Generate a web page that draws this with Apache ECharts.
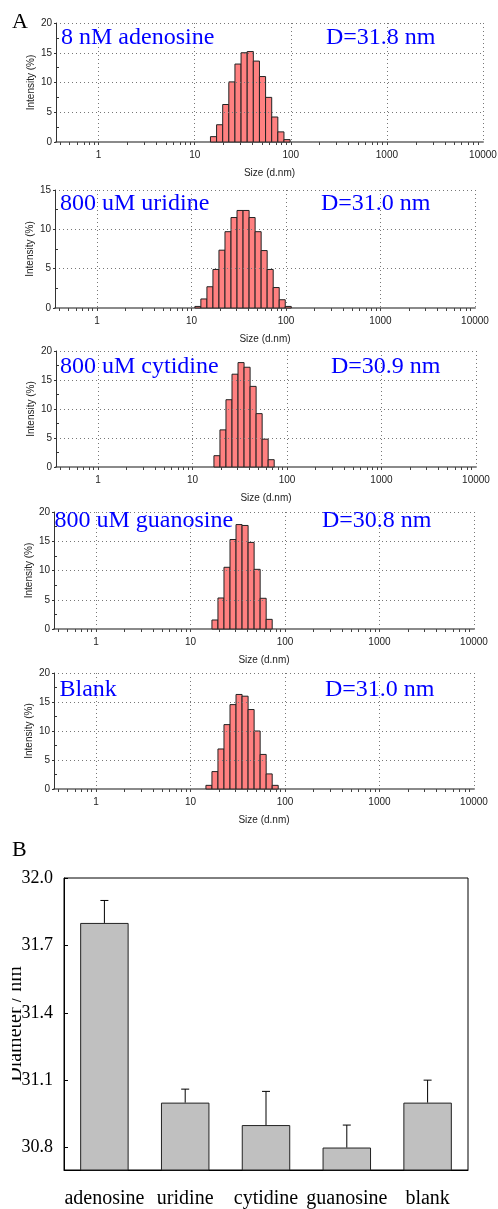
<!DOCTYPE html>
<html><head><meta charset="utf-8">
<script src="https://cdn.jsdelivr.net/npm/echarts@6/dist/echarts.min.js"></script>
<style>html,body{margin:0;padding:0;background:#fff}#c{width:498px;height:1209px}</style>
</head><body><div id="c"></div>
<script>
// ---------- DATA ----------
var SIZE_BINS = [10.1, 11.7, 13.54, 15.69, 18.17, 21.04, 24.36, 28.21, 32.67, 37.84, 43.82, 50.75, 58.77, 68.06, 78.82, 91.28, 105.7, 122.4];
var INT_ADENOSINE = [0, 0, 0, 0.9, 2.9, 6.3, 10.1, 13.1, 15.0, 15.2, 13.6, 11.0, 7.5, 4.2, 1.7, 0.4, 0, 0];
var INT_URIDINE   = [0, 0.2, 1.15, 2.7, 4.9, 7.35, 9.7, 11.5, 12.4, 12.4, 11.5, 9.7, 7.3, 4.9, 2.6, 1.05, 0.2, 0];
var INT_CYTIDINE  = [0, 0, 0, 0, 1.95, 6.4, 11.6, 16.0, 18.0, 17.2, 13.9, 9.2, 4.8, 1.26, 0, 0, 0, 0];
var INT_GUANOSINE = [0, 0, 0, 0, 1.54, 5.3, 10.55, 15.3, 17.85, 17.7, 14.8, 10.2, 5.25, 1.65, 0, 0, 0, 0];
var INT_BLANK     = [0, 0, 0, 0.63, 3.0, 6.9, 11.1, 14.55, 16.3, 16.0, 13.7, 10.0, 5.96, 2.6, 0.63, 0, 0, 0];
var PANEL_LABELS = ['8 nM adenosine', '800 uM uridine', '800 uM cytidine', '800 uM guanosine', 'Blank'];
var PANEL_D = ['D=31.8 nm', 'D=31.0 nm', 'D=30.9 nm', 'D=30.8 nm', 'D=31.0 nm'];
var PANEL_YMAX = [20, 15, 20, 20, 20];
var X_LABEL_TICKS = [1, 10, 100, 1000, 10000];
var X_MINOR_TICKS = [0.4, 0.5, 0.6, 0.7, 0.8, 0.9, 1, 2, 3, 4, 5, 6, 7, 8, 9, 10, 20, 30, 40, 50, 60, 70, 80, 90, 100,
  200, 300, 400, 500, 600, 700, 800, 900, 1000, 2000, 3000, 4000, 5000, 6000, 7000, 8000, 9000];
var Y_MINOR_TICKS = [2.5, 7.5, 12.5, 17.5];

var B_CATEGORIES = ['adenosine', 'uridine', 'cytidine', 'guanosine', 'blank'];
var B_DIAMETER = [31.8, 31.0, 30.9, 30.8, 31.0];
var B_ERROR = [0.1, 0.06, 0.15, 0.1, 0.1];
var B_TICKS = [30.8, 31.1, 31.4, 31.7, 32.0];

var INTENSITIES = [INT_ADENOSINE, INT_URIDINE, INT_CYTIDINE, INT_GUANOSINE, INT_BLANK];

// ---------- LAYOUT ----------
var GRIDS = [
  {left: 56, top: 23, width: 427, height: 119},
  {left: 55, top: 190, width: 420, height: 118},
  {left: 56, top: 351, width: 420, height: 116},
  {left: 54, top: 512, width: 420, height: 117},
  {left: 54, top: 673, width: 420, height: 116},
  {left: 64, top: 878, width: 404, height: 292}
];
var TITLE_POS = [
  [61, 38, 326], [60, 203.5, 321], [60, 367, 331], [54.5, 521, 322], [59.5, 690, 325]
];

var HALF = Math.sqrt(SIZE_BINS[1] / SIZE_BINS[0]);
var SANS = 'Liberation Sans, Arial, sans-serif';
var SERIF = 'Liberation Serif, Times New Roman, serif';

var grid = [], xAxis = [], yAxis = [], series = [], graphic = [];
var xMinorAxes = [], yMinorAxes = [];

for (var i = 0; i < 5; i++) {
  var g = GRIDS[i];
  grid.push({left: g.left, top: g.top, width: g.width, height: g.height, containLabel: false, outerBoundsMode: 'none'});
  xAxis.push({
    type: 'log', logBase: 10, gridIndex: i, min: 0.36, max: 10000, position: 'bottom',
    name: 'Size (d.nm)', nameLocation: 'middle', nameGap: 26, nameMoveOverlap: false,
    nameTextStyle: {fontFamily: SANS, fontSize: 10, color: '#222'},
    axisLine: {show: true, lineStyle: {color: '#8a8a8a', width: 2}},
    axisTick: {show: false},
    axisLabel: {show: true, customValues: X_LABEL_TICKS, margin: 8, fontFamily: SANS, fontSize: 10, color: '#222',
      hideOverlap: false, showMinLabel: true, showMaxLabel: true,
      formatter: function (v) { return String(Math.round(v)); }},
    splitLine: {show: true, showMinLine: false, showMaxLine: true, lineStyle: {color: '#777', type: [1, 3], width: 1}},
    z: 2
  });
  yAxis.push({
    type: 'value', gridIndex: i, min: 0, max: PANEL_YMAX[i], interval: 5, position: 'left',
    name: 'Intensity (%)', nameLocation: 'middle', nameGap: 20, nameMoveOverlap: false,
    nameTextStyle: {fontFamily: SANS, fontSize: 10, color: '#222'},
    axisLine: {show: true, lineStyle: {color: '#333', width: 1}},
    axisTick: {show: true, inside: false, length: 2, lineStyle: {color: '#333'}},
    axisLabel: {margin: 4, fontFamily: SANS, fontSize: 10, color: '#222'},
    splitLine: {show: true, showMinLine: false, showMaxLine: true, lineStyle: {color: '#777', type: [1, 3], width: 1}},
    z: 5
  });
  // minor tick axes (ticks only)
  xMinorAxes.push({
    type: 'log', logBase: 10, gridIndex: i, min: 0.36, max: 10000, position: 'bottom', offset: 0,
    axisLine: {show: false}, axisLabel: {show: false}, splitLine: {show: false},
    axisTick: {show: true, inside: false, length: 3, customValues: X_MINOR_TICKS, lineStyle: {color: '#444', width: 1}},
    z: 6
  });
  yMinorAxes.push({
    type: 'value', gridIndex: i, min: 0, max: PANEL_YMAX[i], position: 'left', offset: 0,
    axisLine: {show: false}, axisLabel: {show: false}, splitLine: {show: false},
    axisTick: {show: true, inside: true, length: 3,
      customValues: Y_MINOR_TICKS.filter(function (v) { return v < PANEL_YMAX[i]; }), lineStyle: {color: '#333'}},
    z: 6
  });
  var arr = INTENSITIES[i];
  series.push({
    type: 'custom', xAxisIndex: i, yAxisIndex: i, coordinateSystem: 'cartesian2d',
    data: SIZE_BINS.map(function (s, k) { return [s, arr[k]]; }),
    encode: {x: 0, y: 1},
    z: 3,
    renderItem: function (params, api) {
      var c = api.value(0), v = api.value(1);
      if (!v) return null;
      var p0 = api.coord([c / HALF, 0]);
      var p1 = api.coord([c * HALF, v]);
      return {type: 'rect',
        shape: {x: p0[0], y: p1[1], width: p1[0] - p0[0], height: p0[1] - p1[1]},
        style: {fill: '#ff8080', stroke: '#222', lineWidth: 1}};
    }
  });
  var tp = TITLE_POS[i];
  graphic.push({type: 'text', x: tp[0], y: tp[1], z: 100,
    style: {text: PANEL_LABELS[i], font: '24px ' + SERIF, fill: '#0000ff', textAlign: 'left', textVerticalAlign: 'middle', verticalAlign: 'middle'}});
  graphic.push({type: 'text', x: tp[2], y: tp[1], z: 100,
    style: {text: PANEL_D[i], font: '24px ' + SERIF, fill: '#0000ff', textAlign: 'left', textVerticalAlign: 'middle', verticalAlign: 'middle'}});
}

// ---------- Panel B ----------
var gb = GRIDS[5];
grid.push({left: gb.left, top: gb.top, width: gb.width, height: gb.height, show: true, borderColor: '#000', borderWidth: 1, backgroundColor: 'transparent', containLabel: false, outerBoundsMode: 'none'});
xAxis.push({
  type: 'category', gridIndex: 5, data: B_CATEGORIES,
  axisLine: {show: true, lineStyle: {color: '#000', width: 1}},
  axisTick: {show: false},
  axisLabel: {margin: 19, fontFamily: SERIF, fontSize: 20, color: '#000', interval: 0, hideOverlap: false},
  splitLine: {show: false}
});
yAxis.push({
  type: 'value', gridIndex: 5, min: 30.7, max: 32.0,
  name: 'Diameter / nm', nameLocation: 'middle', nameGap: 38, nameMoveOverlap: false,
  nameTextStyle: {fontFamily: SERIF, fontSize: 20, color: '#000'},
  axisLine: {show: true, lineStyle: {color: '#000', width: 1}},
  axisTick: {show: true, inside: true, length: 4, customValues: B_TICKS, lineStyle: {color: '#000'}},
  axisLabel: {customValues: B_TICKS, margin: 11, fontFamily: SERIF, fontSize: 18, color: '#000',
    formatter: function (v) { return v.toFixed(1); }},
  splitLine: {show: false}
});
series.push({
  type: 'bar', xAxisIndex: 5, yAxisIndex: 5, data: B_DIAMETER, barWidth: '60%',
  itemStyle: {color: '#c0c0c0', borderColor: '#222', borderWidth: 1}, z: 2
});
series.push({
  type: 'custom', xAxisIndex: 5, yAxisIndex: 5, coordinateSystem: 'cartesian2d', z: 4,
  data: B_CATEGORIES.map(function (c, k) { return [k, B_DIAMETER[k], B_ERROR[k]]; }),
  encode: {x: 0, y: 1},
  renderItem: function (params, api) {
    var x = api.value(0), v = api.value(1), e = api.value(2);
    var p0 = api.coord([x, v]);
    var p1 = api.coord([x, v + e]);
    var hw = 4;
    return {type: 'group', children: [
      {type: 'line', shape: {x1: p0[0], y1: p0[1], x2: p1[0], y2: p1[1]}, style: {stroke: '#000', lineWidth: 1}},
      {type: 'line', shape: {x1: p1[0] - hw, y1: p1[1], x2: p1[0] + hw, y2: p1[1]}, style: {stroke: '#000', lineWidth: 1}}
    ]};
  }
});

xAxis = xAxis.concat(xMinorAxes);
yAxis = yAxis.concat(yMinorAxes);

graphic.push({type: 'text', x: 12, y: 22.5, z: 100,
  style: {text: 'A', font: '22px ' + SERIF, fill: '#000', textAlign: 'left', textVerticalAlign: 'middle', verticalAlign: 'middle'}});
graphic.push({type: 'text', x: 12, y: 850.5, z: 100,
  style: {text: 'B', font: '22px ' + SERIF, fill: '#000', textAlign: 'left', textVerticalAlign: 'middle', verticalAlign: 'middle'}});
// crop edge of the original figure over the y-axis title
graphic.push({type: 'rect', shape: {x: 0, y: 940, width: 12, height: 170}, style: {fill: '#fff'}, z: 200});

var chart = echarts.init(document.getElementById('c'), null, {renderer: 'canvas'});
chart.setOption({
  animation: false,
  backgroundColor: '#fff',
  grid: grid, xAxis: xAxis, yAxis: yAxis, series: series, graphic: graphic
});
</script></body></html>
